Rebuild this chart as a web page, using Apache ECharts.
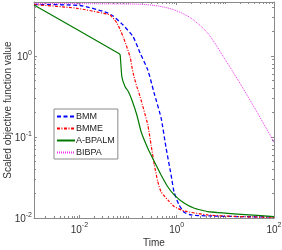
<!DOCTYPE html>
<html><head><meta charset="utf-8">
<script src="https://cdn.jsdelivr.net/npm/echarts@6/dist/echarts.min.js"></script>
<style>html,body{margin:0;padding:0;background:#fff}#c{width:282px;height:250px}</style>
</head><body><div id="c"></div>
<script>
// ---- data ----
var seriesNames = ['BMM', 'BMME', 'A-BPALM', 'BIBPA'];
var tBMM = [0.00117, 0.0104, 0.0367, 0.0494, 0.0793, 0.127, 0.177, 0.255, 0.344, 0.478, 0.606, 0.768, 0.884, 1.12, 1.42, 1.98, 5, 20, 100];
var vBMM = [4.32, 4.2, 3.44, 3.12, 2.41, 1.73, 1.09, 0.672, 0.349, 0.172, 0.0731, 0.034, 0.0209, 0.0145, 0.0118, 0.0109, 0.0106, 0.0104, 0.0103];
var tBMME = [0.00117, 0.00889, 0.0367, 0.0429, 0.0589, 0.0793, 0.110, 0.127, 0.152, 0.177, 0.255, 0.298, 0.348, 0.409, 0.478, 0.656, 0.897, 1.44, 4.35, 20, 100];
var vBMME = [4.32, 3.88, 3.30, 3.21, 2.56, 1.73, 0.98, 0.617, 0.418, 0.315, 0.141, 0.0796, 0.0451, 0.0281, 0.0211, 0.0167, 0.0138, 0.0122, 0.0109, 0.0104, 0.0102];
var tABPALM = [0.00117, 0.0635, 0.0689, 0.0746, 0.0871, 0.102, 0.120, 0.152, 0.186, 0.255, 0.348, 0.478, 0.656, 0.897, 1.44, 2.31, 4.35, 21.0, 100];
var vABPALM = [4.27, 1.08, 1.03, 0.555, 0.418, 0.362, 0.286, 0.187, 0.116, 0.0725, 0.0495, 0.034, 0.0243, 0.0192, 0.0152, 0.0132, 0.012, 0.0111, 0.0104];
var tBIBPA = [0.00117, 0.05, 0.186, 0.409, 0.897, 1.98, 4.35, 9.54, 21.0, 46.3, 63.2, 86.7, 100];
var vBIBPA = [4.45, 4.4, 4.35, 4.14, 3.70, 2.92, 1.91, 0.937, 0.438, 0.196, 0.141, 0.101, 0.0843];
var xLabelTicks = [0.01, 1, 100];
var xLabelTexts = ['-2', '0', '2'];
var yLabelTicks = [0.01, 0.1, 1];
var yLabelTexts = ['-2', '-1', '0'];
var xMin = 0.00117, xMax = 100, yMin = 0.01, yMax = 4.64;

function minorTicks(lo, hi) {
  var out = [];
  for (var e = -4; e <= 3; e++) {
    for (var m = 1; m <= 9; m++) {
      var v = +(m * Math.pow(10, e)).toPrecision(3);
      if (v > lo && v < hi) out.push(v);
    }
  }
  return out;
}
var xMinor = minorTicks(xMin, xMax).filter(function (v) { return xLabelTicks.indexOf(v) < 0; });
var yMinor = minorTicks(yMin, yMax).filter(function (v) { return yLabelTicks.indexOf(v) < 0; });

function zip(a, b) { return a.map(function (x, i) { return [x, b[i]]; }); }

var FONT = '"Liberation Sans", Arial, sans-serif';
var AX = '#8a8a8a';
var rich = {
  b: { fontSize: 10, fontFamily: FONT, color: '#333', verticalAlign: 'bottom', lineHeight: 13 },
  s: { fontSize: 7, fontFamily: FONT, color: '#333', verticalAlign: 'top', lineHeight: 8 }
};
function labFmt(ticks, texts) {
  return function (v) {
    for (var i = 0; i < ticks.length; i++) if (Math.abs(v / ticks[i] - 1) < 1e-6) return '{b|10}{s|' + texts[i] + '}';
    return '';
  };
}

function xAx(pos, vals, len, showLabel, showLine) {
  return {
    type: 'log', position: pos, min: xMin, max: xMax, logBase: 10,
    axisLine: { show: showLine, onZero: false, lineStyle: { color: AX, width: 1 } },
    axisTick: { show: true, inside: true, length: len, customValues: vals, lineStyle: { color: AX, width: 1 } },
    axisLabel: showLabel ? { show: true, customValues: xLabelTicks, formatter: labFmt(xLabelTicks, xLabelTexts), rich: rich, margin: 4 } : { show: false },
    splitLine: { show: false }, minorTick: { show: false },
    name: showLabel ? 'Time' : '', nameLocation: 'middle', nameGap: 20, nameMoveOverlap: false,
    nameTextStyle: { fontSize: 10, fontFamily: FONT, color: '#333' }
  };
}
function yAx(pos, vals, len, showLabel, showLine) {
  return {
    type: 'log', position: pos, min: yMin, max: yMax, logBase: 10,
    axisLine: { show: showLine, onZero: false, lineStyle: { color: AX, width: 1 } },
    axisTick: { show: true, inside: true, length: len, customValues: vals, lineStyle: { color: AX, width: 1 } },
    axisLabel: showLabel ? { show: true, customValues: yLabelTicks, formatter: labFmt(yLabelTicks, yLabelTexts), rich: rich, margin: 2 } : { show: false },
    splitLine: { show: false }, minorTick: { show: false },
    name: showLabel ? 'Scaled objective function value' : '', nameLocation: 'middle', nameGap: 21, nameRotate: 90, nameMoveOverlap: false,
    nameTextStyle: { fontSize: 10, fontFamily: FONT, color: '#333' }
  };
}

var chart = echarts.init(document.getElementById('c'), null, { renderer: 'canvas' });
chart.setOption({
  animation: false,
  backgroundColor: '#fff',
  grid: { left: 34, right: 8, top: 2, bottom: 32, containLabel: false, outerBoundsMode: 'none' },
  xAxis: [
    xAx('bottom', xLabelTicks, 3, true, true),
    xAx('bottom', xMinor, 2, false, false),
    xAx('top', xLabelTicks, 3, false, true),
    xAx('top', xMinor, 2, false, false)
  ],
  yAxis: [
    yAx('left', yLabelTicks, 3, true, true),
    yAx('left', yMinor, 2, false, false),
    yAx('right', yLabelTicks, 3, false, true),
    yAx('right', yMinor, 2, false, false)
  ],
  legend: {
    orient: 'vertical', left: 54, top: 109,
    data: seriesNames,
    itemWidth: 18, itemHeight: 8, itemGap: 1,
    padding: [2, 3, 1, 2],
    borderColor: '#8a8a8a', borderWidth: 1, backgroundColor: '#fff',
    itemStyle: { opacity: 0 },
    textStyle: { fontSize: 9, fontFamily: FONT, color: '#222', padding: [0, 0, 0, -4], lineHeight: 11 }
  },
  series: [
    { name: 'BMM', type: 'line', data: zip(tBMM, vBMM), showSymbol: false, symbol: 'none', smooth: 0.2,
      lineStyle: { color: '#0000ff', width: 1.3, type: [4, 2.5] }, itemStyle: { color: '#0000ff' } },
    { name: 'BMME', type: 'line', data: zip(tBMME, vBMME), showSymbol: false, symbol: 'none', smooth: 0.2,
      lineStyle: { color: '#ff0000', width: 1.2, type: [3, 1.5, 1, 1.5] }, itemStyle: { color: '#ff0000' } },
    { name: 'A-BPALM', type: 'line', data: zip(tABPALM, vABPALM), showSymbol: false, symbol: 'none', smooth: 0.1,
      lineStyle: { color: '#007a00', width: 1.2, type: 'solid' }, itemStyle: { color: '#007a00' } },
    { name: 'BIBPA', type: 'line', data: zip(tBIBPA, vBIBPA), showSymbol: false, symbol: 'none', smooth: 0.3,
      lineStyle: { color: '#ee33ee', width: 1, type: [1, 1] }, itemStyle: { color: '#ee33ee' } }
  ]
});
</script>
</body></html>
